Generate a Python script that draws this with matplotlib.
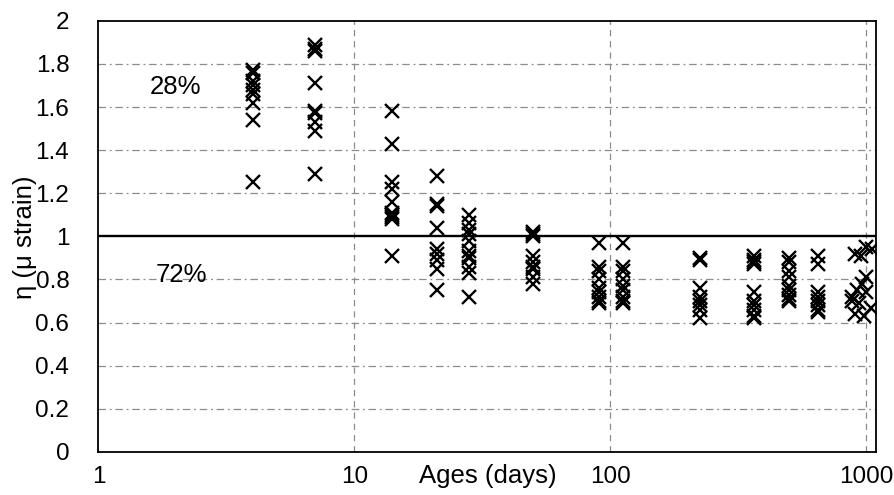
import matplotlib
matplotlib.use("Agg")
import matplotlib.pyplot as plt
import numpy as np

plt.rcParams['font.family'] = ['Liberation Sans', 'DejaVu Sans']

# ages (days) for each group and measured eta values
group_ages = [4, 7, 14, 21, 28, 50, 90, 112, 224, 365, 500, 650]
group_vals = [
    [1.77, 1.76, 1.72, 1.70, 1.68, 1.66, 1.62, 1.54, 1.25],
    [1.89, 1.87, 1.86, 1.71, 1.58, 1.57, 1.53, 1.49, 1.29],
    [1.58, 1.43, 1.25, 1.22, 1.16, 1.11, 1.10, 1.09, 1.08, 0.91],
    [1.28, 1.15, 1.14, 1.04, 0.94, 0.92, 0.89, 0.85, 0.75],
    [1.10, 1.06, 1.03, 1.01, 0.98, 0.93, 0.91, 0.90, 0.86, 0.83, 0.72],
    [1.02, 1.01, 1.00, 0.91, 0.88, 0.86, 0.85, 0.81, 0.78],
    [0.97, 0.86, 0.84, 0.80, 0.76, 0.74, 0.72, 0.70, 0.69],
    [0.97, 0.86, 0.84, 0.80, 0.77, 0.75, 0.72, 0.70, 0.69],
    [0.90, 0.89, 0.76, 0.72, 0.70, 0.68, 0.66, 0.62],
    [0.91, 0.89, 0.88, 0.87, 0.74, 0.70, 0.68, 0.66, 0.63, 0.62],
    [0.90, 0.88, 0.84, 0.81, 0.77, 0.75, 0.73, 0.71, 0.70],
    [0.91, 0.87, 0.74, 0.72, 0.70, 0.68, 0.66, 0.65],
]
late_ages = [900, 950, 1000, 1050, 880, 1000, 960, 920, 1000, 880, 940, 1040, 900, 980]
late_vals = [0.92, 0.91, 0.95, 0.94, 0.72, 0.81, 0.78, 0.75, 0.74, 0.70, 0.69, 0.67, 0.64, 0.63]

x_ticks = [1, 10, 100, 1000]
x_ticklabels = ['1', '10', '100', '1000']
y_ticks = [0, 0.2, 0.4, 0.6, 0.8, 1, 1.2, 1.4, 1.6, 1.8, 2]
y_ticklabels = ['0', '0.2', '0.4', '0.6', '0.8', '1', '1.2', '1.4', '1.6', '1.8', '2']

fig = plt.figure(figsize=(8.95, 4.95), dpi=100)
ax = fig.add_axes([0.110, 0.087, 0.869, 0.871])

xs, ys = [], []
for a, vals in zip(group_ages, group_vals):
    xs.extend([a] * len(vals))
    ys.extend(vals)
xs.extend(late_ages)
ys.extend(late_vals)

ax.set_xscale('log')
ax.set_xlim(1, 1094)
ax.set_ylim(0, 2)

for yv in y_ticks[1:-1]:
    if yv == 1:
        continue
    ax.axhline(yv, color='#8c8c8c', lw=0.9, ls=(0, (6, 3, 1.5, 3)), zorder=1)
for xv in x_ticks[1:]:
    ax.axvline(xv, color='#8c8c8c', lw=0.9, ls=(0, (5, 4)), zorder=1)
ax.axhline(1, color='black', lw=1.7, zorder=2)

ax.plot(xs, ys, ls='none', marker='x', ms=9.5, mew=1.7, color='black', zorder=3)

ax.set_xticks(x_ticks)
ax.set_xticklabels(x_ticklabels)
ax.xaxis.set_minor_locator(matplotlib.ticker.NullLocator())
ax.set_yticks(y_ticks)
ax.set_yticklabels(y_ticklabels)
ax.tick_params(axis='x', direction='in', length=4, width=0.6, color='#888888',
               labelsize=17.5, pad=10)
ax.tick_params(axis='y', length=0, labelsize=17.5, pad=21)
for s in ax.spines.values():
    s.set_linewidth(1.3)

ax.text(0.0997, 0.847, '28%', transform=ax.transAxes, fontsize=18.5, ha='center', va='center')
ax.text(0.106, 0.411, '72%', transform=ax.transAxes, fontsize=18.5, ha='center', va='center')

fig.text(488 / 895, 1 - 476 / 495, 'Ages (days)', fontsize=18.5, ha='center', va='center')
fig.text(25 / 895, 1 - 237 / 495, 'η (μ strain)', fontsize=18.5, ha='center', va='center',
         rotation=90)

fig.savefig('out.png', dpi=100)
